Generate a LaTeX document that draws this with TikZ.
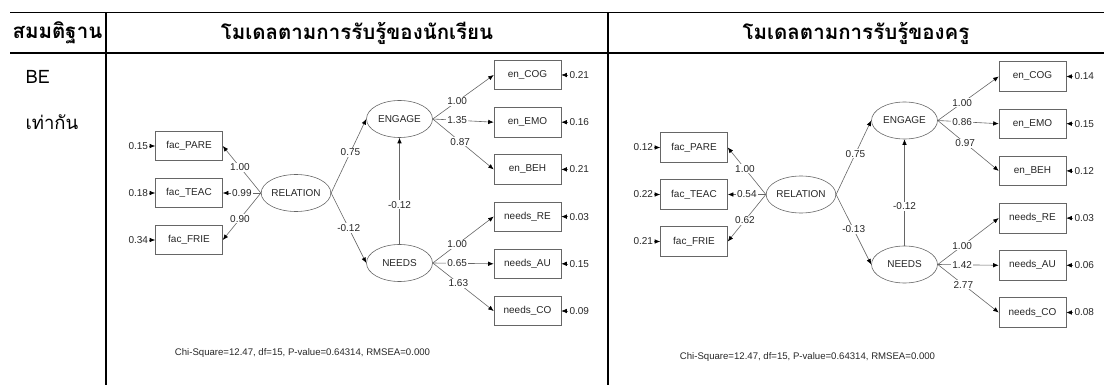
\documentclass[tikz,border=0pt]{standalone}
\usepackage{fontspec}
\setmainfont{Liberation Sans}
\newfontfamily\thaifont[Script=Thai]{Loma}
\usetikzlibrary{shapes,arrows.meta,positioning}

\tikzset{
    obsbox/.style={draw=black!60,line width=0.6pt,minimum width=67pt,minimum height=29.5pt,inner sep=0pt},
    latent/.style={ellipse,draw=black!60,line width=0.6pt,minimum width=66pt,minimum height=37pt,inner sep=0pt},
    coef/.style={fill=white,inner sep=1pt},
    errval/.style={inner sep=1pt},
    link/.style={draw=black!60,line width=0.6pt,-{Latex[length=5.5pt,width=4.5pt,color=black]}},
    tablerule/.style={line width=1.8pt},
    headtext/.style={font=\thaifont\bfseries\fontsize{20.5}{24}\selectfont,text=black},
    celltext/.style={font=\thaifont\fontsize{18.5}{22}\selectfont,text=black}
}

\begin{document}
\begin{tikzpicture}[x=1pt,y=-1pt,every node/.style={font=\fontsize{10}{12}\selectfont,text=black!85}]
    \useasboundingbox (0,0) rectangle (1104,385);
    % table
    \draw[tablerule] (10,12.5) -- (1104,12.5);
    \draw[tablerule] (10,53) -- (1104,53);
    \draw[tablerule] (106,12.5) -- (106,385);
    \draw[tablerule] (608,12.5) -- (608,385);
    \node[headtext] (hHyp) at (57.5,33) {สมมติฐาน};
    \node[headtext] (hStu) at (357,33) {โมเดลตามการรับรู้ของนักเรียน};
    \node[headtext] (hTea) at (856,33) {โมเดลตามการรับรู้ของครู};
    \node[celltext,anchor=west] (hypBE) at (22,77) {BE};
    \node[celltext,anchor=base west] (hypEq) at (22,130) {เท่ากัน};

    % students
    \node[obsbox] (s-PARE) at (189,146) {fac\_PARE};
    \node[obsbox] (s-TEAC) at (189,193) {fac\_TEAC};
    \node[obsbox] (s-FRIE) at (189,240) {fac\_FRIE};
    \node[errval,left=6pt of s-PARE] (s-ePARE) {0.15};
    \node[errval,left=6pt of s-TEAC] (s-eTEAC) {0.18};
    \node[errval,left=6pt of s-FRIE] (s-eFRIE) {0.34};
    \node[latent] (s-REL) at (296,193) {RELATION};
    \node[latent] (s-ENG) at (399.5,119) {ENGAGE};
    \node[latent] (s-NEE) at (399.5,263) {NEEDS};
    \node[obsbox] (s-COG) at (527.5,75) {en\_COG};
    \node[obsbox] (s-EMO) at (527.5,122.2) {en\_EMO};
    \node[obsbox] (s-BEH) at (527.5,169.4) {en\_BEH};
    \node[obsbox] (s-RE) at (527.5,216.6) {needs\_RE};
    \node[obsbox] (s-AU) at (527.5,263.8) {needs\_AU};
    \node[obsbox] (s-CO) at (527.5,311) {needs\_CO};
    \node[errval,right=7pt of s-COG] (s-eCOG) {0.21};
    \node[errval,right=7pt of s-EMO] (s-eEMO) {0.16};
    \node[errval,right=7pt of s-BEH] (s-eBEH) {0.21};
    \node[errval,right=7pt of s-RE] (s-eRE) {0.03};
    \node[errval,right=7pt of s-AU] (s-eAU) {0.15};
    \node[errval,right=7pt of s-CO] (s-eCO) {0.09};
    \draw[link] (s-ePARE) -- (s-PARE);
    \draw[link] (s-eTEAC) -- (s-TEAC);
    \draw[link] (s-eFRIE) -- (s-FRIE);
    \draw[link] (s-eCOG) -- (s-COG);
    \draw[link] (s-eEMO) -- (s-EMO);
    \draw[link] (s-eBEH) -- (s-BEH);
    \draw[link] (s-eRE) -- (s-RE);
    \draw[link] (s-eAU) -- (s-AU);
    \draw[link] (s-eCO) -- (s-CO);
    \draw[link] (s-REL.west) -- node[coef,pos=0.55] {1.00} (s-PARE.east);
    \draw[link] (s-REL.west) -- node[coef] {0.99} (s-TEAC.east);
    \draw[link] (s-REL.west) -- node[coef,pos=0.55] {0.90} (s-FRIE.east);
    \draw[link] (s-REL.east) -- node[coef,pos=0.55] {0.75} (s-ENG.west);
    \draw[link] (s-REL.east) -- node[coef] {-0.12} (s-NEE.west);
    \draw[link] (s-NEE.north) -- node[coef,pos=0.37] {-0.12} (s-ENG.south);
    \draw[link] (s-ENG.east) -- node[coef,pos=0.4] {1.00} (s-COG.west);
    \draw[link] (s-ENG.east) -- node[coef,pos=0.4] {1.35} (s-EMO.west);
    \draw[link] (s-ENG.east) -- node[coef,pos=0.45] {0.87} (s-BEH.west);
    \draw[link] (s-NEE.east) -- node[coef,pos=0.4] {1.00} (s-RE.west);
    \draw[link] (s-NEE.east) -- node[coef,pos=0.4] {0.65} (s-AU.west);
    \draw[link] (s-NEE.east) -- node[coef,pos=0.42] {1.63} (s-CO.west);
    \node[font=\fontsize{9.6}{11}\selectfont] (s-fit) at (302.5,353) {Chi-Square=12.47, df=15, P-value=0.64314, RMSEA=0.000};

    % teachers
    \node[obsbox] (t-PARE) at (694,147.5) {fac\_PARE};
    \node[obsbox] (t-TEAC) at (694,194.5) {fac\_TEAC};
    \node[obsbox] (t-FRIE) at (694,241.5) {fac\_FRIE};
    \node[errval,left=6pt of t-PARE] (t-ePARE) {0.12};
    \node[errval,left=6pt of t-TEAC] (t-eTEAC) {0.22};
    \node[errval,left=6pt of t-FRIE] (t-eFRIE) {0.21};
    \node[latent] (t-REL) at (801,194.5) {RELATION};
    \node[latent] (t-ENG) at (904.5,120.5) {ENGAGE};
    \node[latent] (t-NEE) at (904.5,264.5) {NEEDS};
    \node[obsbox] (t-COG) at (1032.5,76.5) {en\_COG};
    \node[obsbox] (t-EMO) at (1032.5,123.7) {en\_EMO};
    \node[obsbox] (t-BEH) at (1032.5,170.9) {en\_BEH};
    \node[obsbox] (t-RE) at (1032.5,218.1) {needs\_RE};
    \node[obsbox] (t-AU) at (1032.5,265.3) {needs\_AU};
    \node[obsbox] (t-CO) at (1032.5,312.5) {needs\_CO};
    \node[errval,right=7pt of t-COG] (t-eCOG) {0.14};
    \node[errval,right=7pt of t-EMO] (t-eEMO) {0.15};
    \node[errval,right=7pt of t-BEH] (t-eBEH) {0.12};
    \node[errval,right=7pt of t-RE] (t-eRE) {0.03};
    \node[errval,right=7pt of t-AU] (t-eAU) {0.06};
    \node[errval,right=7pt of t-CO] (t-eCO) {0.08};
    \draw[link] (t-ePARE) -- (t-PARE);
    \draw[link] (t-eTEAC) -- (t-TEAC);
    \draw[link] (t-eFRIE) -- (t-FRIE);
    \draw[link] (t-eCOG) -- (t-COG);
    \draw[link] (t-eEMO) -- (t-EMO);
    \draw[link] (t-eBEH) -- (t-BEH);
    \draw[link] (t-eRE) -- (t-RE);
    \draw[link] (t-eAU) -- (t-AU);
    \draw[link] (t-eCO) -- (t-CO);
    \draw[link] (t-REL.west) -- node[coef,pos=0.55] {1.00} (t-PARE.east);
    \draw[link] (t-REL.west) -- node[coef] {0.54} (t-TEAC.east);
    \draw[link] (t-REL.west) -- node[coef,pos=0.55] {0.62} (t-FRIE.east);
    \draw[link] (t-REL.east) -- node[coef,pos=0.55] {0.75} (t-ENG.west);
    \draw[link] (t-REL.east) -- node[coef] {-0.13} (t-NEE.west);
    \draw[link] (t-NEE.north) -- node[coef,pos=0.37] {-0.12} (t-ENG.south);
    \draw[link] (t-ENG.east) -- node[coef,pos=0.4] {1.00} (t-COG.west);
    \draw[link] (t-ENG.east) -- node[coef,pos=0.4] {0.86} (t-EMO.west);
    \draw[link] (t-ENG.east) -- node[coef,pos=0.45] {0.97} (t-BEH.west);
    \draw[link] (t-NEE.east) -- node[coef,pos=0.4] {1.00} (t-RE.west);
    \draw[link] (t-NEE.east) -- node[coef,pos=0.4] {1.42} (t-AU.west);
    \draw[link] (t-NEE.east) -- node[coef,pos=0.42] {2.77} (t-CO.west);
    \node[font=\fontsize{9.6}{11}\selectfont] (t-fit) at (807.5,357) {Chi-Square=12.47, df=15, P-value=0.64314, RMSEA=0.000};
\end{tikzpicture}
\end{document}
